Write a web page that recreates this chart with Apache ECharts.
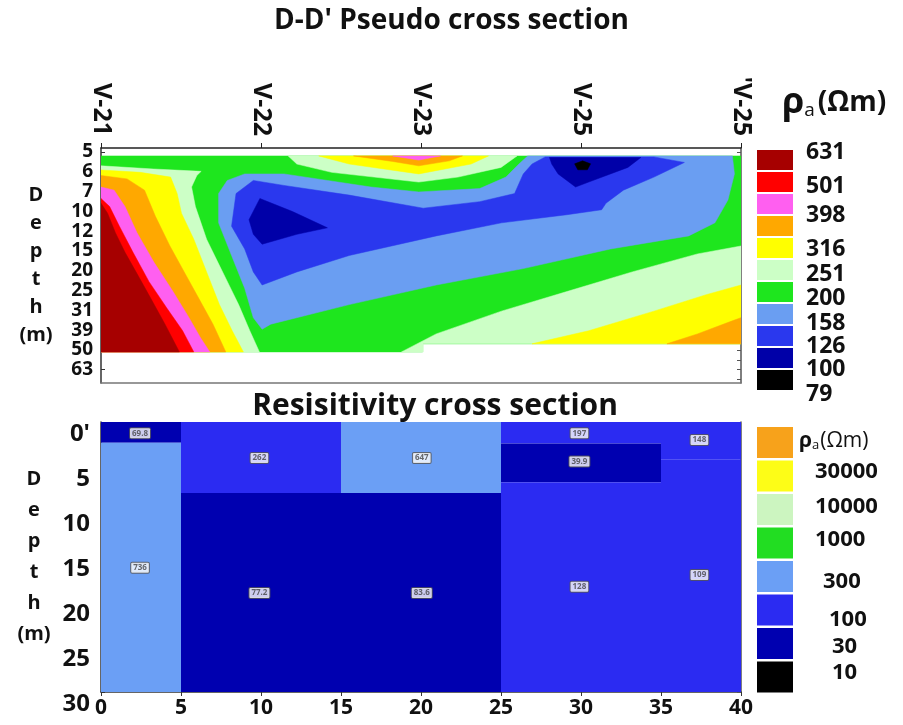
<!DOCTYPE html>
<html><head><meta charset="utf-8">
<script src="https://cdn.jsdelivr.net/npm/echarts@6/dist/echarts.min.js"></script>
<style>html,body{margin:0;padding:0;background:#fff}#c{width:903px;height:725px}</style>
</head><body><div id="c"></div>
<script>
// ---------- top: pseudo cross section ----------
const stationLabels = ['V-21', 'V-22', 'V-23', 'V-25', "'V-25"];
const stationPos = [0, 10, 20, 30, 40];
const depthLabels = ['5', '6', '7', '10', '12', '15', '20', '25', '31', '39', '50', '63'];
const pseudoLegendLabels = [631, 501, 398, 316, 251, 200, 158, 126, 100, 79];
const pseudoLegendColors = ['#a60000', '#ff0000', '#ff5ff0', '#ffa800', '#ffff00', '#ccffc6', '#1ee61e', '#6a9ef2', '#2a38ee', '#0000a8', '#000000'];

// contour zones: [distance (m), depth index]
const zoneGreenBase = [[0,0.2],[40,0.2],[40,9.69],[20.1,9.69],[20.1,10.1],[0,10.1]];
const zoneLeftLightGreen = [[0,0.7],[3.27,0.86],[6.26,0.98],[5.99,1.19],[5.66,1.77],[5.9,2.76],[6.6,4.41],[7.6,6.06],[8.6,7.71],[9.3,9.03],[9.9,10.1],[0,10.1]];
const zoneLeftYellow = [[0,0.91],[2.45,1.03],[4.35,1.27],[4.76,2.10],[5.03,3.09],[5.8,4.41],[6.6,6.06],[7.4,7.71],[8.2,9.03],[8.9,10.1],[0,10.1]];
const zoneLeftOrange = [[0,1.19],[1.63,1.36],[2.72,1.93],[3.4,3.25],[4.3,4.74],[5.2,6.06],[6.1,7.38],[7.0,8.70],[7.8,10.1],[0,10.1]];
const zoneLeftMagenta = [[0,1.77],[0.82,1.93],[1.5,2.76],[2.25,4.08],[3.3,5.56],[4.5,7.05],[5.5,8.37],[6.2,9.36],[6.8,10.1],[0,10.1]];
const zoneLeftRed = [[0,2.35],[0.54,2.76],[1.15,3.75],[2.0,5.07],[3.0,6.55],[4.1,7.87],[5.1,9.03],[5.8,10.1],[0,10.1]];
const zoneLeftDarkRed = [[0,2.59],[0.41,3.09],[0.9,4.08],[1.5,5.07],[2.3,6.22],[3.1,7.38],[4.0,8.70],[4.9,10.1],[0,10.1]];
const zoneTopLightGreen = [[11.7,0.2],[12.24,0.61],[14.42,1.03],[19.86,1.52],[22.31,1.27],[25.0,0.78],[26.0,0.2]];
const zoneTopYellow = [[13.61,0.2],[15.51,0.61],[19.86,1.11],[23.13,0.61],[24.22,0.2]];
const zoneTopOrange = [[15.78,0.2],[18.23,0.48],[19.86,0.7],[21.77,0.45],[22.59,0.2]];
const zoneTopMagenta = [[18.23,0.2],[19.86,0.41],[21.22,0.2]];
const zoneLightBlue = [[26.67,0.2],[39.46,0.2],[39.59,1.11],[39.18,2.43],[38.37,3.58],[36.73,4.24],[31.84,4.90],[26.39,5.89],[20.95,6.72],[15.51,7.71],[10.61,8.70],[10.07,8.95],[9.52,8.37],[8.98,6.88],[8.16,5.23],[7.35,3.58],[7.35,2.10],[7.89,1.44],[8.98,1.11],[11.43,1.11],[14.15,1.44],[16.87,1.77],[19.86,2.02],[23.67,1.85],[25.31,1.27],[26.12,0.61]];
const zoneBlue = [[8.16,3.75],[8.44,2.10],[9.52,1.44],[11.43,1.69],[15.51,2.18],[20.14,2.84],[23.67,2.51],[25.85,2.10],[26.12,1.60],[26.39,1.11],[26.94,0.61],[27.76,0.25],[34.56,0.25],[36.46,0.53],[34.56,1.27],[32.65,1.93],[31.56,2.59],[31.29,2.92],[29.12,3.17],[25.03,3.58],[20.95,4.24],[15.51,5.23],[12.24,6.06],[10.07,6.72],[9.52,6.06],[8.98,4.90]];
const zoneDarkBlueLeft = [[9.25,3.42],[9.93,2.35],[11.97,3.01],[14.15,3.83],[12.24,4.16],[10.07,4.66],[9.52,4.16]];
const zoneDarkBlueRight = [[28.03,0.28],[33.74,0.28],[32.93,0.78],[30.48,1.52],[29.66,1.77],[28.57,1.11],[28.17,0.61]];
const zoneBlackSpot = [[29.6,0.6],[30.1,0.45],[30.6,0.6],[30.4,0.9],[29.8,0.9]];
const zoneRightLightGreen = [[18.78,10.1],[20.95,9.19],[25.03,8.04],[29.12,7.05],[33.2,6.06],[37.28,5.15],[40,4.75],[40,9.69],[20.14,9.69],[20.14,10.1]];
const zoneRightYellow = [[26.94,9.69],[30.48,9.03],[34.56,8.04],[37.82,7.21],[40,6.72],[40,9.69]];
const zoneRightOrange = [[35.37,9.69],[37.28,9.19],[39.46,8.53],[40,8.37],[40,9.69]];

const pseudoZones = [
  { rho: 180, pts: zoneGreenBase },
  { rho: 225, pts: zoneLeftLightGreen },
  { rho: 280, pts: zoneLeftYellow },
  { rho: 355, pts: zoneLeftOrange },
  { rho: 450, pts: zoneLeftMagenta },
  { rho: 560, pts: zoneLeftRed },
  { rho: 700, pts: zoneLeftDarkRed },
  { rho: 225, pts: zoneTopLightGreen },
  { rho: 280, pts: zoneTopYellow },
  { rho: 355, pts: zoneTopOrange },
  { rho: 450, pts: zoneTopMagenta },
  { rho: 140, pts: zoneLightBlue },
  { rho: 112, pts: zoneBlue },
  { rho: 90, pts: zoneDarkBlueLeft },
  { rho: 90, pts: zoneDarkBlueRight },
  { rho: 70, pts: zoneBlackSpot },
  { rho: 225, pts: zoneRightLightGreen },
  { rho: 280, pts: zoneRightYellow },
  { rho: 355, pts: zoneRightOrange }
];

// ---------- bottom: resistivity cross section ----------
const layerX0 = [0, 0, 5, 15, 5, 15, 25, 35, 25, 25, 35];
const layerX1 = [5, 5, 15, 25, 15, 25, 35, 40, 35, 35, 40];
const layerTop = [0, 2.3, 0, 0, 7.9, 7.9, 0, 0, 2.4, 6.7, 4.2];
const layerBottom = [2.3, 30, 7.9, 7.9, 30, 30, 2.4, 4.2, 6.7, 30, 30];
const layerRho = [69.8, 736, 262, 647, 77.2, 83.6, 197, 148, 39.9, 128, 109];
const layerLabelX = [2.44, 2.44, 9.9, 20.05, 9.9, 20.05, 29.9, 37.4, 29.9, 29.9, 37.4];
const layerLabelDepth = [1.26, 16.2, 4.0, 4.0, 19, 19, 1.26, 2.0, 4.4, 18.3, 17];
const layerLegendLabels = [30000, 10000, 1000, 300, 100, 30, 10];
const layerLegendColors = ['#f7a21b', '#fdfd17', '#ccf5c0', '#22dd22', '#6b9ff5', '#2b2bf2', '#0000b0', '#000000'];

function pseudoColor(rho) {
  for (let k = 0; k < pseudoLegendLabels.length; k++) if (rho >= pseudoLegendLabels[k]) return pseudoLegendColors[k];
  return pseudoLegendColors[pseudoLegendColors.length - 1];
}
function layerColor(rho) {
  for (let k = 0; k < layerLegendLabels.length; k++) if (rho >= layerLegendLabels[k]) return layerLegendColors[k + 1];
  return layerLegendColors[layerLegendColors.length - 1];
}

const FONT = 'Open Sans';
const idx12 = depthLabels.map((d, i) => i);
const rightTicks = [];
for (let v = 0; v <= 11.5; v += 0.5) rightTicks.push(v);

// legends (graphic)
const graphic = [];
pseudoLegendColors.forEach((c, k) => graphic.push({ type: 'rect', shape: { x: 757, y: 150 + 22 * k, width: 36, height: 20 }, style: { fill: c } }));
const topLabY = [152, 186, 215, 249, 274, 298, 323, 346, 369, 394];
pseudoLegendLabels.forEach((v, k) => graphic.push({ type: 'text', x: 806, y: topLabY[k], style: { text: String(v), font: 'bold 23px "Open Sans"', fill: '#111', verticalAlign: 'middle' } }));
graphic.push({ type: 'text', x: 782, y: 103, style: { text: '{r|ρ}{s|a}{p|(Ωm)}', verticalAlign: 'middle', rich: {
  r: { fontSize: 36, fontWeight: 'bold', fontFamily: FONT, fill: '#111' },
  s: { fontSize: 19, fontFamily: FONT, fill: '#111', padding: [16, 3, 0, 0] },
  p: { fontSize: 28, fontWeight: 'bold', fontFamily: FONT, fill: '#111' } } } });
layerLegendColors.forEach((c, k) => graphic.push({ type: 'rect', shape: { x: 757, y: 427 + 33.5 * k, width: 36, height: 31 }, style: { fill: c } }));
const botLabX = [815, 815, 815, 823, 829, 832, 832];
const botLabY = [472, 507, 540, 582, 620, 647, 673];
layerLegendLabels.forEach((v, k) => graphic.push({ type: 'text', x: botLabX[k], y: botLabY[k], style: { text: String(v), font: 'bold 22px "Open Sans"', fill: '#111', verticalAlign: 'middle' } }));
graphic.push({ type: 'text', x: 799, y: 441, style: { text: '{r|ρ}{s|a}{p|(Ωm)}', verticalAlign: 'middle', rich: {
  r: { fontSize: 21, fontWeight: 'bold', fontFamily: FONT, fill: '#111' },
  s: { fontSize: 13, fontFamily: FONT, fill: '#111', padding: [8, 1, 0, 0] },
  p: { fontSize: 21, fontFamily: FONT, fill: '#111' } } } });

const depthName = 'D\ne\np\nt\nh\n(m)';
const chart = echarts.init(document.getElementById('c'));
chart.setOption({
  animation: false,
  backgroundColor: '#fff',
  textStyle: { fontFamily: FONT },
  title: [
    { text: "D-D' Pseudo cross section", left: 'center', top: 2, textStyle: { fontSize: 28, fontWeight: 'bold', fontFamily: FONT, color: '#111' } },
    { text: 'Resisitivity cross section', left: 430, top: 386, textAlign: 'center', textStyle: { fontSize: 30, fontWeight: 'bold', fontFamily: FONT, color: '#111' } }
  ],
  graphic: graphic,
  grid: [
    { left: 101, top: 148, width: 640, height: 235 },
    { left: 101, top: 422, width: 640, height: 270 }
  ],
  xAxis: [
    { gridIndex: 0, type: 'value', min: 0, max: 40, interval: 10, position: 'top',
      axisLine: { show: true, onZero: false, lineStyle: { color: '#222', width: 1.5 } },
      axisTick: { show: true, length: 5, lineStyle: { color: '#222' } },
      splitLine: { show: false },
      axisLabel: { rotate: 90, margin: 12, fontSize: 25, fontWeight: 'bold', color: '#111', formatter: v => stationLabels[stationPos.indexOf(v)] } },
    { gridIndex: 0, type: 'value', min: 0, max: 40, position: 'bottom',
      axisLine: { show: true, onZero: false, lineStyle: { color: '#777', width: 1.5 } }, axisTick: { show: false }, axisLabel: { show: false }, splitLine: { show: false } },
    { gridIndex: 1, type: 'value', min: 0, max: 40, interval: 5, position: 'bottom',
      axisLine: { show: true, onZero: false, lineStyle: { color: '#333', width: 1.5 } },
      axisTick: { show: true, length: 4, lineStyle: { color: '#333' } },
      splitLine: { show: false },
      axisLabel: { margin: 6, fontSize: 21, fontWeight: 'bold', color: '#111' } },
    { gridIndex: 1, type: 'value', min: 0, max: 40, position: 'top',
      axisLine: { show: true, onZero: false, lineStyle: { color: '#999', width: 1 } }, axisTick: { show: false }, axisLabel: { show: false }, splitLine: { show: false } }
  ],
  yAxis: [
    { gridIndex: 0, type: 'value', inverse: true, min: -0.2, max: 11.67,
      axisLine: { show: true, onZero: false, lineStyle: { color: '#333', width: 1.5 } },
      axisTick: { show: true, inside: true, length: 4, customValues: idx12, lineStyle: { color: '#333' } },
      splitLine: { show: false },
      axisLabel: { customValues: idx12, margin: 8, fontSize: 19, fontWeight: 'bold', color: '#111', formatter: v => depthLabels[Math.round(v)] },
      name: depthName, nameLocation: 'middle', nameRotate: 0, nameGap: 65,
      nameTextStyle: { fontSize: 20, fontWeight: 'bold', color: '#111', lineHeight: 28, align: 'center', verticalAlign: 'middle', padding: [0, 0, 20, 0] } },
    { gridIndex: 0, type: 'value', inverse: true, min: -0.2, max: 11.67, position: 'right',
      axisLine: { show: true, onZero: false, lineStyle: { color: '#555', width: 1.5 } },
      axisTick: { show: true, inside: true, length: 4, customValues: rightTicks, lineStyle: { color: '#555' } },
      axisLabel: { show: false }, splitLine: { show: false } },
    { gridIndex: 1, type: 'value', inverse: true, min: 0, max: 30, interval: 5,
      axisLine: { show: true, onZero: false, lineStyle: { color: '#333', width: 1.5 } },
      axisTick: { show: true, inside: true, length: 4, lineStyle: { color: '#333' } },
      minorTick: { show: true, splitNumber: 4, length: 3, lineStyle: { color: '#555' } },
      splitLine: { show: false },
      axisLabel: { margin: 11, fontSize: 24, fontWeight: 'bold', color: '#111', verticalAlign: 'top', formatter: v => (v === 0 ? "0'" : String(v)) },
      name: depthName, nameLocation: 'middle', nameRotate: 0, nameGap: 67,
      nameTextStyle: { fontSize: 20, fontWeight: 'bold', color: '#111', lineHeight: 31, align: 'center', verticalAlign: 'middle', padding: [0, 0, 6, 0] } },
    { gridIndex: 1, type: 'value', inverse: true, min: 0, max: 30, interval: 5, position: 'right',
      axisLine: { show: true, onZero: false, lineStyle: { color: '#555', width: 1.5 } },
      axisTick: { show: true, inside: true, length: 4, lineStyle: { color: '#555' } },
      minorTick: { show: true, splitNumber: 4, length: 3, lineStyle: { color: '#555' } },
      axisLabel: { show: false }, splitLine: { show: false } }
  ],
  series: [
    { type: 'custom', name: 'pseudo', xAxisIndex: 0, yAxisIndex: 0, clip: true,
      data: pseudoZones.map((z, k) => [k]),
      renderItem: function (params, api) {
        const z = pseudoZones[params.dataIndex];
        const c = pseudoColor(z.rho);
        return { type: 'polygon', shape: { points: z.pts.map(p => api.coord(p)) }, style: { fill: c, stroke: c, lineWidth: 0.5 } };
      } },
    { type: 'custom', name: 'layers', xAxisIndex: 2, yAxisIndex: 2, clip: true,
      data: layerRho.map((r, k) => [k]),
      renderItem: function (params, api) {
        const k = params.dataIndex;
        const a = api.coord([layerX0[k], layerTop[k]]);
        const b = api.coord([layerX1[k], layerBottom[k]]);
        const c = layerColor(layerRho[k]);
        return { type: 'rect', shape: { x: a[0], y: a[1], width: b[0] - a[0], height: b[1] - a[1] }, style: { fill: c } };
      } },
    { type: 'scatter', name: 'labels', xAxisIndex: 2, yAxisIndex: 2, symbolSize: 1, itemStyle: { color: 'rgba(0,0,0,0)' },
      data: layerRho.map((r, k) => [layerLabelX[k], layerLabelDepth[k], r]),
      label: { show: true, position: 'inside', formatter: p => String(p.value[2]), fontSize: 8, fontWeight: 'bold', color: '#444',
        backgroundColor: '#fff', borderColor: '#555', borderWidth: 1, borderRadius: 1, padding: [1, 2] } }
  ]
});
</script>
</body></html>
